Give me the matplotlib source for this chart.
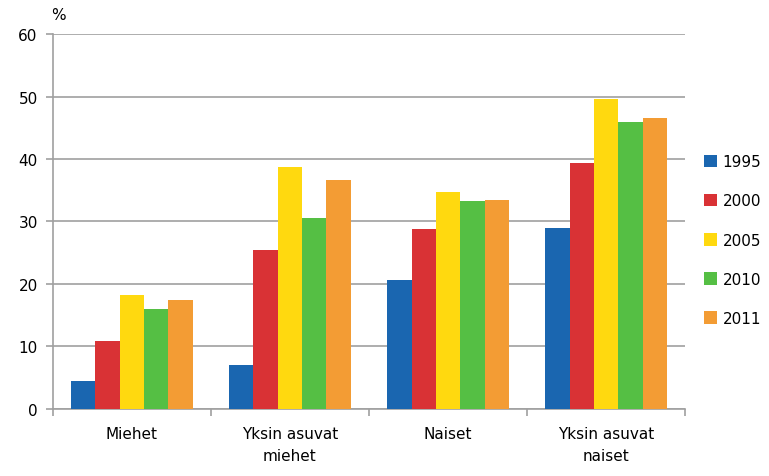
import numpy as np
import matplotlib
matplotlib.use("Agg")
import matplotlib.pyplot as plt

categories = ["Miehet", "Yksin asuvat\nmiehet", "Naiset", "Yksin asuvat\nnaiset"]
years = ["1995", "2000", "2005", "2010", "2011"]
v1995 = [4.4, 7.0, 20.6, 29.0]
v2000 = [10.9, 25.4, 28.8, 39.3]
v2005 = [18.3, 38.8, 34.7, 49.6]
v2010 = [16.0, 30.6, 33.2, 46.0]
v2011 = [17.5, 36.7, 33.4, 46.5]
series = [v1995, v2000, v2005, v2010, v2011]
colors = ["#1a66b0", "#d93235", "#ffd90f", "#55bf44", "#f39c34"]

plt.rcParams["font.family"] = "DejaVu Sans"
fig = plt.figure(figsize=(7.69, 4.77), dpi=100)
ax = fig.add_axes([0.0689, 0.1405, 0.8219, 0.7861])

x = np.arange(len(categories))
w = 0.154
for i, (vals, c, yr) in enumerate(zip(series, colors, years)):
    ax.bar(x + (i - 2) * w, vals, w, color=c, label=yr, zorder=3)

ax.set_xlim(-0.5, 3.5)
ax.set_ylim(0, 60)
ax.set_yticks(range(0, 61, 10))
ax.yaxis.grid(True, color="#a0a0a0", lw=1.2, zorder=0)
for s in ["top", "right"]:
    ax.spines[s].set_visible(False)
for s in ["left", "bottom"]:
    ax.spines[s].set_color("#a0a0a0")
    ax.spines[s].set_linewidth(1.2)
ax.tick_params(axis="y", length=5, color="#a0a0a0", width=1.2, labelsize=11, pad=6)
ax.set_xticks(x)
ax.set_xticklabels(categories, fontsize=11, linespacing=1.6)
ax.tick_params(axis="x", length=0, pad=12)
ax.set_xticks(np.arange(-0.5, 4.0, 1.0), minor=True)
ax.tick_params(axis="x", which="minor", length=5, color="#a0a0a0", width=1.2)
for lab in ax.get_xticklabels():
    lab.set_verticalalignment("top")

fig.text(58 / 769, 1 - 15 / 477, "%", fontsize=11, ha="center", va="center")

ax.legend(loc="center left", bbox_to_anchor=(0.907, 1 - 241 / 477), bbox_transform=fig.transFigure,
          frameon=False, fontsize=11, handlelength=0.9, handleheight=0.9, handletextpad=0.35,
          labelspacing=1.58, borderaxespad=0)

fig.savefig("out.png", dpi=100)
